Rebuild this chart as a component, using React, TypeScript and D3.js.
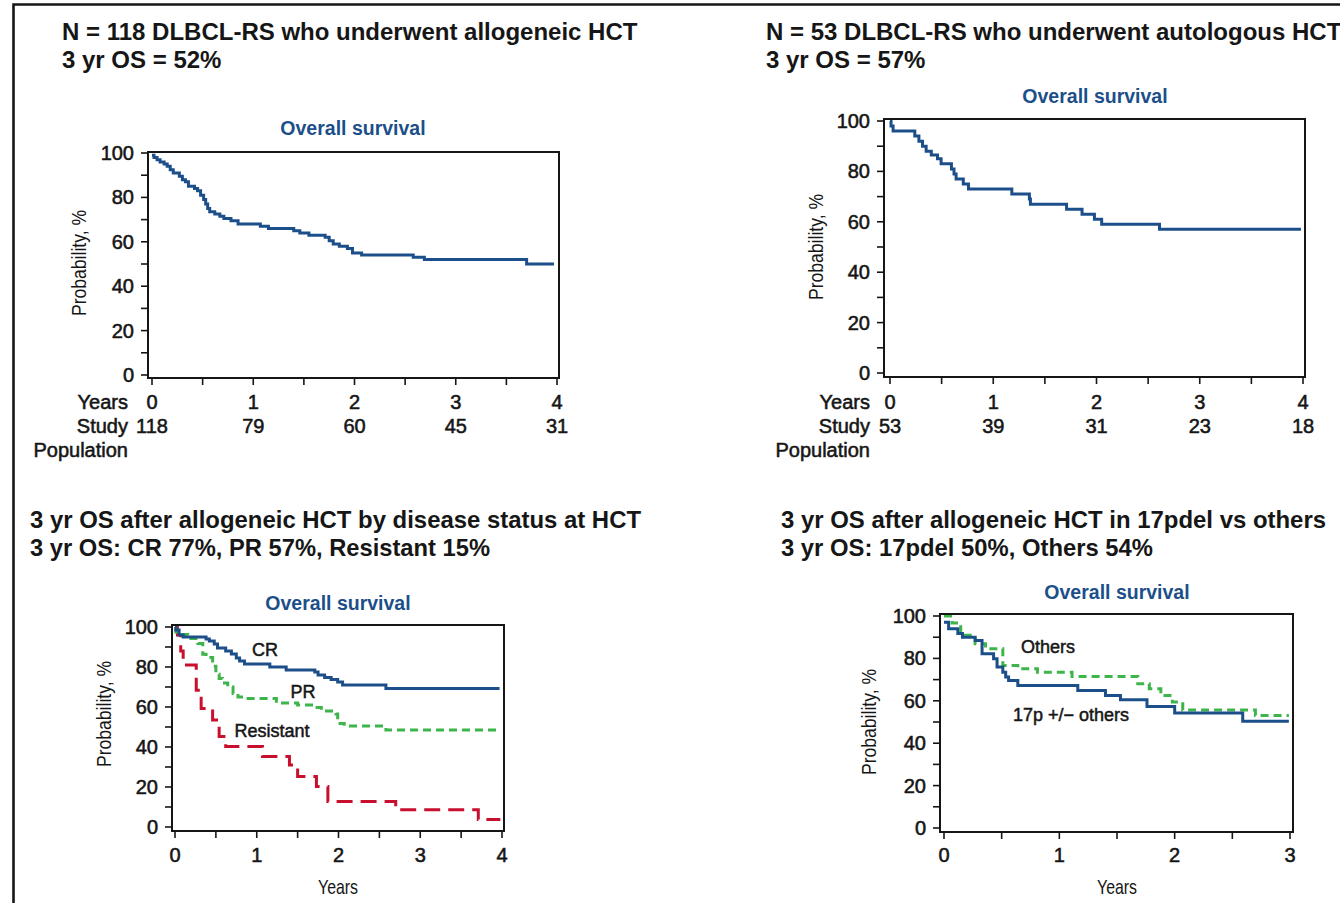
import React from 'react';
import * as d3 from 'd3';

type Pt = [number, number];

// ---------- data ----------
const yTickLabels = [0, 20, 40, 60, 80, 100];
const yMinorTicks = [10, 30, 50, 70, 90];
const yearTicks4 = [0, 1, 2, 3, 4];
const yearTicks3 = [0, 1, 2, 3];
const halfYearTicks4 = [0.5, 1.5, 2.5, 3.5];
const halfYearTicks3 = [0.5, 1.5, 2.5];

const atRiskAllo = [118, 79, 60, 45, 31];
const atRiskAuto = [53, 39, 31, 23, 18];

const osAllo: Pt[] = [[0, 99], [0.02, 98], [0.05, 97], [0.08, 96], [0.12, 95], [0.15, 94], [0.18, 92.5], [0.21, 91], [0.27, 89.5], [0.3, 88], [0.33, 87], [0.36, 85], [0.42, 84], [0.45, 83], [0.48, 81], [0.51, 79], [0.53, 77], [0.55, 75], [0.57, 73.5], [0.62, 72.5], [0.67, 71.5], [0.71, 70.5], [0.78, 69.5], [0.85, 68], [1.07, 67], [1.15, 66], [1.4, 65], [1.46, 64], [1.55, 63], [1.71, 62], [1.75, 60.5], [1.79, 59], [1.85, 58], [1.93, 57], [1.98, 55], [2.07, 54], [2.58, 53], [2.69, 52], [3.7, 50]];
const osAlloEnd = 3.97;

const osAuto: Pt[] = [[0, 100], [0.01, 98], [0.03, 96], [0.24, 94], [0.28, 92], [0.315, 90], [0.35, 88], [0.4, 86.5], [0.46, 85], [0.495, 83], [0.595, 81], [0.62, 79], [0.64, 77], [0.71, 75], [0.76, 73], [1.18, 71], [1.35, 69], [1.36, 67], [1.71, 65], [1.86, 63], [1.98, 61], [2.05, 59], [2.61, 57]];
const osAutoEnd = 3.98;

const osCR: Pt[] = [[0, 100], [0.01, 98.5], [0.05, 96], [0.1, 95], [0.38, 94], [0.42, 93], [0.48, 91.5], [0.52, 89.5], [0.62, 88], [0.69, 86.5], [0.75, 84.5], [0.79, 83], [0.85, 81.5], [1.16, 80], [1.36, 78.5], [1.71, 77.5], [1.75, 76], [1.83, 74.8], [1.91, 73.8], [1.99, 72.5], [2.05, 71], [2.58, 69.3]];
const osCREnd = 3.97;

const osPR: Pt[] = [[0, 100], [0.01, 97.5], [0.04, 96.3], [0.155, 94.2], [0.28, 91.7], [0.34, 86.4], [0.38, 84.7], [0.46, 80.4], [0.5, 76.4], [0.54, 74.3], [0.58, 72], [0.645, 70], [0.71, 66.8], [0.77, 65], [0.87, 64.3], [1.24, 62], [1.5, 61], [1.69, 59.8], [1.79, 58], [1.97, 56.5], [1.99, 51.8], [2.07, 50.5], [2.58, 48.5]];
const osPREnd = 3.96;

const osResistant: Pt[] = [[0, 100], [0.03, 96], [0.07, 88], [0.1, 81], [0.26, 68.4], [0.32, 59.3], [0.46, 53.5], [0.54, 45.2], [0.62, 40.2], [1.07, 35.2], [1.4, 31], [1.5, 25.2], [1.73, 20.3], [1.87, 12.8], [2.7, 8.6], [3.71, 3.7]];
const osResistantEnd = 3.98;

const os17p: Pt[] = [[0, 97], [0.04, 94], [0.12, 91.7], [0.16, 90], [0.27, 88.5], [0.33, 82.2], [0.43, 79.8], [0.46, 75.9], [0.51, 73.5], [0.535, 71.2], [0.56, 69.6], [0.64, 67.2], [1.16, 64.9], [1.4, 62.5], [1.53, 60.5], [1.76, 57.3], [2.0, 54.2], [2.59, 50.4]];
const os17pEnd = 2.99;

const osOthers: Pt[] = [[0, 100], [0.07, 96.7], [0.145, 90.9], [0.27, 86.9], [0.36, 84.6], [0.51, 76.7], [0.64, 75.1], [0.81, 73.5], [1.11, 71.5], [1.68, 68], [1.78, 65.7], [1.88, 62.5], [1.98, 59.4], [2.07, 55.7], [2.7, 53.1]];
const osOthersEnd = 2.99;

// ---------- styles ----------
const FONT = "'Liberation Sans', Arial, Helvetica, sans-serif";
const BLUE = '#1c4f8a';
const GREEN = '#3db54a';
const RED = '#c8102e';
const INK = '#161616';

interface Curve { data: Pt[]; end: number; color: string; dash?: string; }
interface Box { l: number; r: number; t: number; b: number; }
interface PanelProps {
  xMax: number;
  xRange: [number, number];
  yRange: [number, number];
  box: Box;
  majors: number[];
  minors: number[];
  curves: Curve[];
  xLabelY: number;
}

const tickText = { fontFamily: FONT, fontSize: 20, fill: INK, stroke: INK, strokeWidth: 0.55 } as const;

function Panel({ xMax, xRange, yRange, box, majors, minors, curves, xLabelY }: PanelProps) {
  const xs = d3.scaleLinear().domain([0, xMax]).range(xRange);
  const ys = d3.scaleLinear().domain([0, 100]).range(yRange);
  const line = d3.line<Pt>().x(d => xs(d[0])).y(d => ys(d[1])).curve(d3.curveStepAfter);
  return (
    <g>
      {curves.map((c, i) => {
        const pts: Pt[] = [...c.data, [c.end, c.data[c.data.length - 1][1]]];
        return (
          <path key={i} d={line(pts) || ''} fill="none" stroke={c.color} strokeWidth={3}
            strokeDasharray={c.dash} strokeLinejoin="miter" strokeLinecap="butt" />
        );
      })}
      <rect x={box.l} y={box.t} width={box.r - box.l} height={box.b - box.t} fill="none" stroke={INK} strokeWidth={2} />
      {[...yTickLabels, ...yMinorTicks].map(v => (
        <line key={'y' + v} x1={box.l - 7} x2={box.l} y1={ys(v)} y2={ys(v)} stroke={INK} strokeWidth={1.6} />
      ))}
      {yTickLabels.map(v => (
        <text key={'yl' + v} x={box.l - 14} y={ys(v)} textAnchor="end" dominantBaseline="central" {...tickText}>{v}</text>
      ))}
      {[...majors, ...minors].map(v => (
        <line key={'x' + v} x1={xs(v)} x2={xs(v)} y1={box.b} y2={box.b + 7} stroke={INK} strokeWidth={1.6} />
      ))}
      {majors.map(v => (
        <text key={'xl' + v} x={xs(v)} y={xLabelY} textAnchor="middle" dominantBaseline="central" {...tickText}>{v}</text>
      ))}
    </g>
  );
}

function YLabel({ x, y }: { x: number; y: number }) {
  return (
    <text transform={`translate(${x},${y}) rotate(-90)`} textAnchor="middle" dominantBaseline="central"
      fontFamily={FONT} fontSize={21} fill={INK} textLength={106} lengthAdjust="spacingAndGlyphs">Probability, %</text>
  );
}

function OSTitle({ x, y }: { x: number; y: number }) {
  return (
    <text x={x} y={y} textAnchor="middle" fontFamily={FONT} fontSize={19.5} fontWeight="bold" fill={BLUE}>Overall survival</text>
  );
}

function RiskTable({ rightX, xs, values }: { rightX: number; xs: d3.ScaleLinear<number, number>; values: number[] }) {
  return (
    <g>
      <text x={rightX} y={402} textAnchor="end" dominantBaseline="central" {...tickText}>Years</text>
      <text x={rightX} y={426} textAnchor="end" dominantBaseline="central" {...tickText}>Study</text>
      <text x={rightX} y={450} textAnchor="end" dominantBaseline="central" {...tickText}>Population</text>
      {values.map((v, i) => (
        <text key={i} x={xs(yearTicks4[i])} y={426} textAnchor="middle" dominantBaseline="central" {...tickText}>{v}</text>
      ))}
    </g>
  );
}

const titleStyle = { fontFamily: FONT, fontSize: 24, fontWeight: 'bold', fill: INK } as const;
const curveLabel = { fontFamily: FONT, fontSize: 18, fill: INK, stroke: INK, strokeWidth: 0.5 } as const;

export default function App() {
  const xs1 = d3.scaleLinear().domain([0, 4]).range([152, 557]);
  const xs2 = d3.scaleLinear().domain([0, 4]).range([890, 1303]);
  return (
    <svg width={1340} height={903} style={{ position: 'absolute', left: 0, top: 0, background: '#fff' }}>
      <rect x={0} y={0} width={1340} height={903} fill="#fff" />
      <path d="M13.5,903 V4.5 H1340" fill="none" stroke={INK} strokeWidth={2.6} />

      {/* Panel 1 */}
      <text x={62} y={40} {...titleStyle}>N = 118 DLBCL-RS who underwent allogeneic HCT</text>
      <text x={62} y={68} {...titleStyle}>3 yr OS = 52%</text>
      <OSTitle x={353} y={135} />
      <YLabel x={78} y={263} />
      <Panel xMax={4} xRange={[152, 557]} yRange={[375, 153]} box={{ l: 148, r: 559, t: 152, b: 378 }}
        majors={yearTicks4} minors={halfYearTicks4} xLabelY={402}
        curves={[{ data: osAllo, end: osAlloEnd, color: BLUE }]} />
      <RiskTable rightX={128} xs={xs1} values={atRiskAllo} />

      {/* Panel 2 */}
      <text x={766} y={40} {...titleStyle}>N = 53 DLBCL-RS who underwent autologous HCT</text>
      <text x={766} y={68} {...titleStyle}>3 yr OS = 57%</text>
      <OSTitle x={1095} y={103} />
      <YLabel x={815} y={247} />
      <Panel xMax={4} xRange={[890, 1303]} yRange={[373, 121]} box={{ l: 884, r: 1305, t: 119, b: 377 }}
        majors={yearTicks4} minors={halfYearTicks4} xLabelY={402}
        curves={[{ data: osAuto, end: osAutoEnd, color: BLUE }]} />
      <RiskTable rightX={870} xs={xs2} values={atRiskAuto} />

      {/* Panel 3 */}
      <text x={30} y={528} {...titleStyle} textLength={611} lengthAdjust="spacingAndGlyphs">3 yr OS after allogeneic HCT by disease status at HCT</text>
      <text x={30} y={556} {...titleStyle} textLength={460} lengthAdjust="spacingAndGlyphs">3 yr OS: CR 77%, PR 57%, Resistant 15%</text>
      <OSTitle x={338} y={610} />
      <YLabel x={103} y={714} />
      <Panel xMax={4} xRange={[175, 502]} yRange={[827, 627]} box={{ l: 172, r: 504, t: 625, b: 831 }}
        majors={yearTicks4} minors={halfYearTicks4} xLabelY={855}
        curves={[
          { data: osResistant, end: osResistantEnd, color: RED, dash: '16,8' },
          { data: osPR, end: osPREnd, color: GREEN, dash: '8,5' },
          { data: osCR, end: osCREnd, color: BLUE },
        ]} />
      <text x={265} y={650} textAnchor="middle" dominantBaseline="central" {...curveLabel}>CR</text>
      <text x={303} y={692} textAnchor="middle" dominantBaseline="central" {...curveLabel}>PR</text>
      <text x={272} y={731} textAnchor="middle" dominantBaseline="central" {...curveLabel}>Resistant</text>
      <text x={338} y={886} textAnchor="middle" dominantBaseline="central" fontFamily={FONT} fontSize={21} fill={INK} textLength={40} lengthAdjust="spacingAndGlyphs">Years</text>

      {/* Panel 4 */}
      <text x={781} y={528} {...titleStyle} textLength={545} lengthAdjust="spacingAndGlyphs">3 yr OS after allogeneic HCT in 17pdel vs others</text>
      <text x={781} y={556} {...titleStyle} textLength={372} lengthAdjust="spacingAndGlyphs">3 yr OS: 17pdel 50%, Others 54%</text>
      <OSTitle x={1117} y={599} />
      <YLabel x={868} y={722} />
      <Panel xMax={3} xRange={[944, 1290]} yRange={[828, 616]} box={{ l: 940, r: 1293, t: 614, b: 832 }}
        majors={yearTicks3} minors={halfYearTicks3} xLabelY={855}
        curves={[
          { data: osOthers, end: osOthersEnd, color: GREEN, dash: '8,5' },
          { data: os17p, end: os17pEnd, color: BLUE },
        ]} />
      <text x={1048} y={647} textAnchor="middle" dominantBaseline="central" {...curveLabel}>Others</text>
      <text x={1071} y={715} textAnchor="middle" dominantBaseline="central" {...curveLabel}>17p +/− others</text>
      <text x={1117} y={886} textAnchor="middle" dominantBaseline="central" fontFamily={FONT} fontSize={21} fill={INK} textLength={40} lengthAdjust="spacingAndGlyphs">Years</text>
    </svg>
  );
}
